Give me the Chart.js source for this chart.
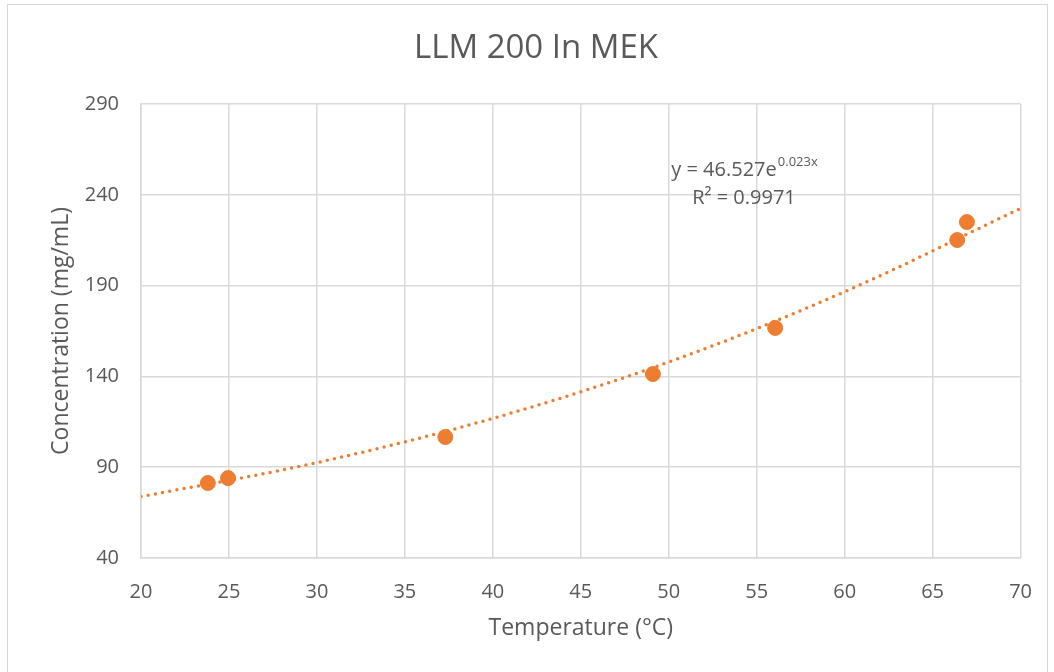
<!DOCTYPE html>
<html>
<head>
<meta charset="utf-8">
<script src="https://cdn.jsdelivr.net/npm/chart.js@4.4.1/dist/chart.umd.min.js"></script>
<style>
  html, body { margin: 0; padding: 0; background: #fff; }
  #wrap { position: relative; width: 1054px; height: 672px; }
  #frame { position: absolute; left: 7px; top: 4px; width: 1041px; height: 690px; border: 1px solid #d9d9d9; box-sizing: border-box; pointer-events: none; }
  canvas { position: absolute; left: 0; top: 0; }
</style>
</head>
<body>
<div id="wrap">
  <canvas id="chart" width="1054" height="672"></canvas>
  <div id="frame"></div>
</div>
<script>
// measured points
const tempX = [23.8, 24.95, 37.3, 49.1, 56.05, 66.4, 66.95];
const concY = [81.3, 84.0, 106.6, 141.3, 166.7, 215.1, 225.0];

// dotted exponential trendline
const trendX = [20, 30, 40, 50, 60, 70];
const trendY = [73.8, 92.5, 116.9, 147.9, 186.6, 232.5];

const xTicks = [20, 25, 30, 35, 40, 45, 50, 55, 60, 65, 70];
const yTicks = [40, 90, 140, 190, 240, 290];

const chartTitle = 'LLM 200 In MEK';
const equationText = 'y = 46.527e';
const equationExp = '0.023x';
const r2Text = 'R² = 0.9971';

const orange = '#ed7d31';
const textGray = '#595959';
const gridGray = '#d9d9d9';
const fontFamily = '"Open Sans", "Noto Sans", sans-serif';

function renderChart(canvasId) {
    const ctx = document.getElementById(canvasId);
    if (!ctx) {
        console.error(`Canvas element with ID ${canvasId} not found`);
        return;
    }

    // chart title and trendline label (Excel puts the title over the whole frame)
    const textLabels = {
        id: 'textLabels',
        afterDatasetsDraw(chart) {
            const c = chart.ctx;
            c.save();
            c.fillStyle = textGray;

            c.font = '33px ' + fontFamily;
            c.textAlign = 'center';
            c.textBaseline = 'middle';
            c.fillText(chartTitle, 536, 49);

            const cx = 744;
            c.textBaseline = 'alphabetic';
            c.font = '20px ' + fontFamily;
            const w1 = c.measureText(equationText).width;
            c.font = '13px ' + fontFamily;
            const w2 = c.measureText(equationExp).width;
            const left = cx - (w1 + w2) / 2;
            c.font = '20px ' + fontFamily;
            c.textAlign = 'left';
            c.fillText(equationText, left, 176);
            c.font = '13px ' + fontFamily;
            c.fillText(equationExp, left + w1 + 1, 166);
            c.font = '20px ' + fontFamily;
            c.textAlign = 'center';
            c.fillText(r2Text, cx, 204);
            c.restore();
        }
    };

    ctx.chart = new Chart(ctx.getContext('2d'), {
        type: 'scatter',
        data: {
            datasets: [{
                label: 'Trend',
                type: 'line',
                data: trendX.map((x, i) => ({ x: x, y: trendY[i] })),
                borderColor: orange,
                borderWidth: 3.5,
                borderDash: [0, 7.3],
                borderCapStyle: 'round',
                pointRadius: 0,
                cubicInterpolationMode: 'monotone',
                fill: false,
                order: 2
            }, {
                label: 'Concentration',
                data: tempX.map((x, i) => ({ x: x, y: concY[i] })),
                backgroundColor: orange,
                borderColor: orange,
                pointRadius: 7.5,
                pointHoverRadius: 7.5,
                order: 1
            }]
        },
        options: {
            responsive: false,
            animation: false,
            layout: {
                padding: { left: 0, right: 32, top: 104, bottom: 0 }
            },
            plugins: {
                legend: { display: false },
                tooltip: { enabled: false },
                title: { display: false }
            },
            scales: {
                x: {
                    type: 'linear',
                    min: 20,
                    max: 70,
                    afterBuildTicks(scale) {
                        scale.ticks = xTicks.map(v => ({ value: v }));
                    },
                    afterFit(scale) {
                        scale.height = 114;
                    },
                    grid: { color: gridGray, lineWidth: 1.5, drawTicks: false },
                    border: { color: gridGray, width: 1.5 },
                    ticks: {
                        color: textGray,
                        padding: 22,
                        maxRotation: 0,
                        font: { family: fontFamily, size: 20 }
                    },
                    title: {
                        display: true,
                        text: 'Temperature (°C)',
                        color: textGray,
                        font: { family: fontFamily, size: 23 },
                        padding: { top: 30, bottom: 30 }
                    }
                },
                y: {
                    type: 'linear',
                    min: 40,
                    max: 290,
                    afterBuildTicks(scale) {
                        scale.ticks = yTicks.map(v => ({ value: v }));
                    },
                    afterFit(scale) {
                        scale.width = 141;
                    },
                    grid: { color: gridGray, lineWidth: 1.5, drawTicks: false },
                    border: { color: gridGray, width: 1.5 },
                    ticks: {
                        color: textGray,
                        padding: 22,
                        font: { family: fontFamily, size: 20 }
                    },
                    title: {
                        display: true,
                        text: 'Concentration (mg/mL)',
                        color: textGray,
                        font: { family: fontFamily, size: 23 },
                        padding: { top: 48, bottom: 48 }
                    }
                }
            }
        },
        plugins: [textLabels]
    });
}

renderChart('chart');
</script>
</body>
</html>
